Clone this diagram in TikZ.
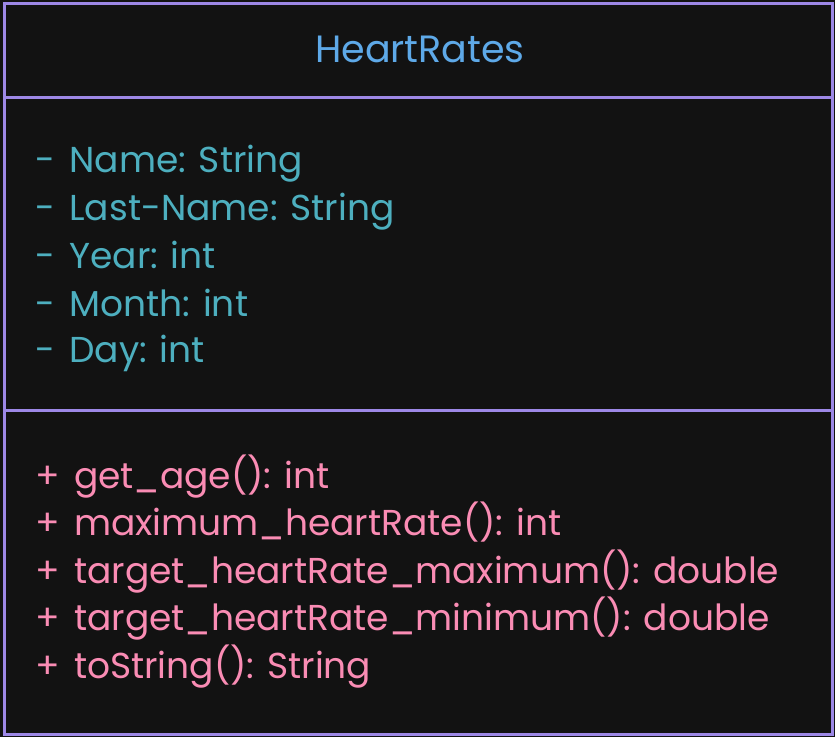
\documentclass[tikz,border=0pt]{standalone}
\usepackage{fontspec}
\setmainfont{Poppins}
\definecolor{canvas}{HTML}{121212}
\definecolor{frame}{HTML}{9D88E6}
\definecolor{titleblue}{HTML}{5EA9E8}
\definecolor{attrteal}{HTML}{4DAFBF}
\definecolor{methpink}{HTML}{FA8CB4}
\tikzset{
  x=1pt, y=-1pt,
  classframe/.style={draw=frame, line width=3pt},
  divider/.style={draw=frame, line width=3pt},
  member/.style={anchor=base west, inner sep=0pt, font=\fontsize{36}{43}\selectfont},
  attr/.style={member, text=attrteal},
  meth/.style={member, text=methpink},
  classtitle/.style={anchor=base, inner sep=0pt, text=titleblue, font=\fontsize{38}{45}\selectfont},
}
\newcommand{\vispub}{+\hspace{0.4em}}
\newcommand{\vispriv}{-\hspace{0.4em}}
\begin{document}
\begin{tikzpicture}
  % canvas
  \fill[canvas] (0,0) rectangle (835,737);
  \useasboundingbox (0,0) rectangle (835,737);

  % class box and its compartments
  \draw[classframe] (4,3) rectangle (832,734);
  \draw[divider] (4,97) -- (832,97);
  \draw[divider] (4,410) -- (832,410);

  % class name
  \node[classtitle] (title) at (420,62) {HeartRates};

  % attributes
  \node[attr] (a1) at (35,172) {\vispriv Name: String};
  \node[attr] (a2) at (35,220) {\vispriv Last-Name: String};
  \node[attr] (a3) at (35,268) {\vispriv Year: int};
  \node[attr] (a4) at (35,316) {\vispriv Month: int};
  \node[attr] (a5) at (35,362) {\vispriv Day: int};

  % methods
  \node[meth] (m1) at (35,488) {\vispub get\_age(): int};
  \node[meth] (m2) at (35,535) {\vispub maximum\_heartRate(): int};
  \node[meth] (m3) at (35,583) {\vispub target\_heartRate\_maximum(): double};
  \node[meth] (m4) at (35,630) {\vispub target\_heartRate\_minimum(): double};
  \node[meth] (m5) at (35,678) {\vispub toString(): String};
\end{tikzpicture}
\end{document}
